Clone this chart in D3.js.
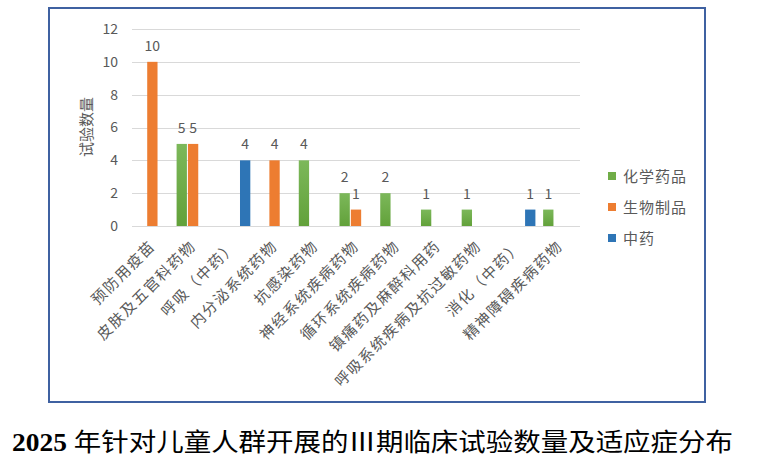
<!DOCTYPE html>
<html>
<head>
<meta charset="utf-8">
<script src="https://cdn.jsdelivr.net/npm/d3@7"></script>
<style>
    html, body { margin: 0; padding: 0; background: #fff; }
    svg { display: block; }
</style>
</head>
<body>
<div id="root"></div>
<script>
// categories along the x axis
let categories = ['预防用疫苗', '皮肤及五官科药物', '呼吸（中药）', '内分泌系统药物', '抗感染药物',
    '神经系统疾病药物', '循环系统疾病药物', '镇痛药及麻醉科用药', '呼吸系统疾病及抗过敏药物',
    '消化（中药）', '精神障碍疾病药物'];

let seriesNames = ['化学药品', '生物制品', '中药'];

let chemicalValues = [0, 5, 0, 0, 4, 2, 2, 1, 1, 0, 1],
    biologicValues = [10, 5, 0, 4, 0, 1, 0, 0, 0, 0, 0],
    tcmValues = [0, 0, 4, 0, 0, 0, 0, 0, 0, 1, 0];

let yTicks = [0, 2, 4, 6, 8, 10, 12];

let seriesColors = ['#70ad47', '#ed7d31', '#2e75b6'];

let chartTitle = '年针对儿童人群开展的Ⅲ期临床试验数量及适应症分布',
    chartYear = '2025 ',
    yAxisTitle = '试验数量';

let width = 759,
    height = 467,
    textColor = '#595959',
    labelFont = '"Noto Sans CJK SC", "Microsoft YaHei", sans-serif';

let svg = d3.select('#root')
    .append('svg')
    .attr('width', width)
    .attr('height', height);

// gradient used by the green series (slightly lighter at the top)
let defs = svg.append('defs');
let greenGradient = defs.append('linearGradient')
    .attr('id', 'greenFill')
    .attr('x1', 0).attr('y1', 0).attr('x2', 0).attr('y2', 1);
greenGradient.append('stop').attr('offset', '0%').attr('stop-color', '#7cb85a');
greenGradient.append('stop').attr('offset', '100%').attr('stop-color', '#62a13a');

let fills = ['url(#greenFill)', seriesColors[1], seriesColors[2]];

// outer frame
svg.append('rect')
    .attr('x', 49)
    .attr('y', 8)
    .attr('width', 656)
    .attr('height', 394)
    .attr('fill', 'none')
    .attr('stroke', '#3f61a1')
    .attr('stroke-width', 2);

let plotLeft = 132,
    plotRight = 580,
    plotTop = 29,
    plotBottom = 226;

let x = d3.scaleBand()
    .domain(categories)
    .range([plotLeft, plotRight])
    .paddingInner(0.19)
    .paddingOuter(0.095);

let x1 = d3.scaleBand()
    .domain(seriesNames)
    .range([0, x.bandwidth()])
    .paddingInner(0.09);

let y = d3.scaleLinear()
    .domain([0, 12])
    .range([plotBottom, plotTop]);

// gridlines
svg.append('g')
    .selectAll('line')
    .data(yTicks)
    .enter()
    .append('line')
    .attr('x1', plotLeft)
    .attr('x2', plotRight)
    .attr('y1', (d) => Math.round(y(d)) + 0.5)
    .attr('y2', (d) => Math.round(y(d)) + 0.5)
    .style('stroke', '#d9d9d9')
    .style('stroke-width', 1);

// y axis tick labels
let yAxis = svg.append('g')
    .attr('transform', 'translate(' + (plotLeft - 14) + ',0)')
    .call(d3.axisLeft(y).tickValues(yTicks).tickSize(0).tickPadding(0));
yAxis.select('.domain').remove();
yAxis.selectAll('text')
    .attr('fill', textColor)
    .style('font-family', labelFont)
    .style('font-size', '14px');

// y axis title
svg.append('text')
    .attr('transform', 'translate(92,127) rotate(-90)')
    .attr('text-anchor', 'middle')
    .attr('fill', textColor)
    .style('font-family', labelFont)
    .style('font-size', '15px')
    .text(yAxisTitle);

// build one row per category with all three series
let seriesValues = [chemicalValues, biologicValues, tcmValues];
let rows = categories.map((category, i) => {
    return seriesNames.map((name, s) => ({ category, name, index: s, value: seriesValues[s][i] }))
        .filter((d) => d.value > 0);
});

let groups = svg.append('g')
    .selectAll('.group')
    .data(rows)
    .enter()
    .append('g')
    .attr('class', 'group')
    .attr('transform', (d, i) => 'translate(' + x(categories[i]) + ',0)');

groups.selectAll('rect')
    .data((d) => d)
    .enter()
    .append('rect')
    .attr('x', (d) => x1(d.name))
    .attr('y', (d) => y(d.value))
    .attr('width', x1.bandwidth())
    .attr('height', (d) => y(0) - y(d.value))
    .attr('fill', (d) => fills[d.index]);

// data labels above the bars
groups.selectAll('text')
    .data((d) => d)
    .enter()
    .append('text')
    .attr('x', (d) => x1(d.name) + x1.bandwidth() / 2)
    .attr('y', (d) => y(d.value) - 11)
    .attr('text-anchor', 'middle')
    .attr('fill', textColor)
    .style('font-family', labelFont)
    .style('font-size', '14px')
    .text((d) => d.value);

// rotated category labels
svg.append('g')
    .selectAll('text')
    .data(categories)
    .enter()
    .append('text')
    .attr('transform', (d) => 'translate(' + (x(d) + x.bandwidth() / 2 + 4) + ',247) rotate(-45)')
    .attr('text-anchor', 'end')
    .attr('fill', textColor)
    .style('font-family', labelFont)
    .style('font-size', '15px')
    .style('letter-spacing', '1.6px')
    .text((d) => d);

// legend
let legend = svg.append('g')
    .selectAll('.legendItem')
    .data(seriesNames)
    .enter()
    .append('g')
    .attr('class', 'legendItem')
    .attr('transform', (d, i) => 'translate(608,' + (172 + i * 31) + ')');

legend.append('rect')
    .attr('width', 8)
    .attr('height', 8)
    .attr('fill', (d, i) => seriesColors[i]);

legend.append('text')
    .attr('x', 15)
    .attr('y', 9.5)
    .attr('fill', textColor)
    .style('font-family', labelFont)
    .style('font-size', '15px')
    .style('letter-spacing', '1px')
    .text((d) => d);

// caption below the frame
let title = svg.append('text')
    .attr('x', 12)
    .attr('y', 451)
    .attr('fill', '#000')
    .attr('textLength', 721)
    .attr('lengthAdjust', 'spacingAndGlyphs')
    .style('font-family', '"Liberation Serif", "Noto Sans CJK SC", serif')
    .style('font-size', '25px');

title.append('tspan')
    .style('font-weight', 'bold')
    .text(chartYear);

title.append('tspan')
    .style('font-weight', 'normal')
    .text(chartTitle);
</script>
</body>
</html>
